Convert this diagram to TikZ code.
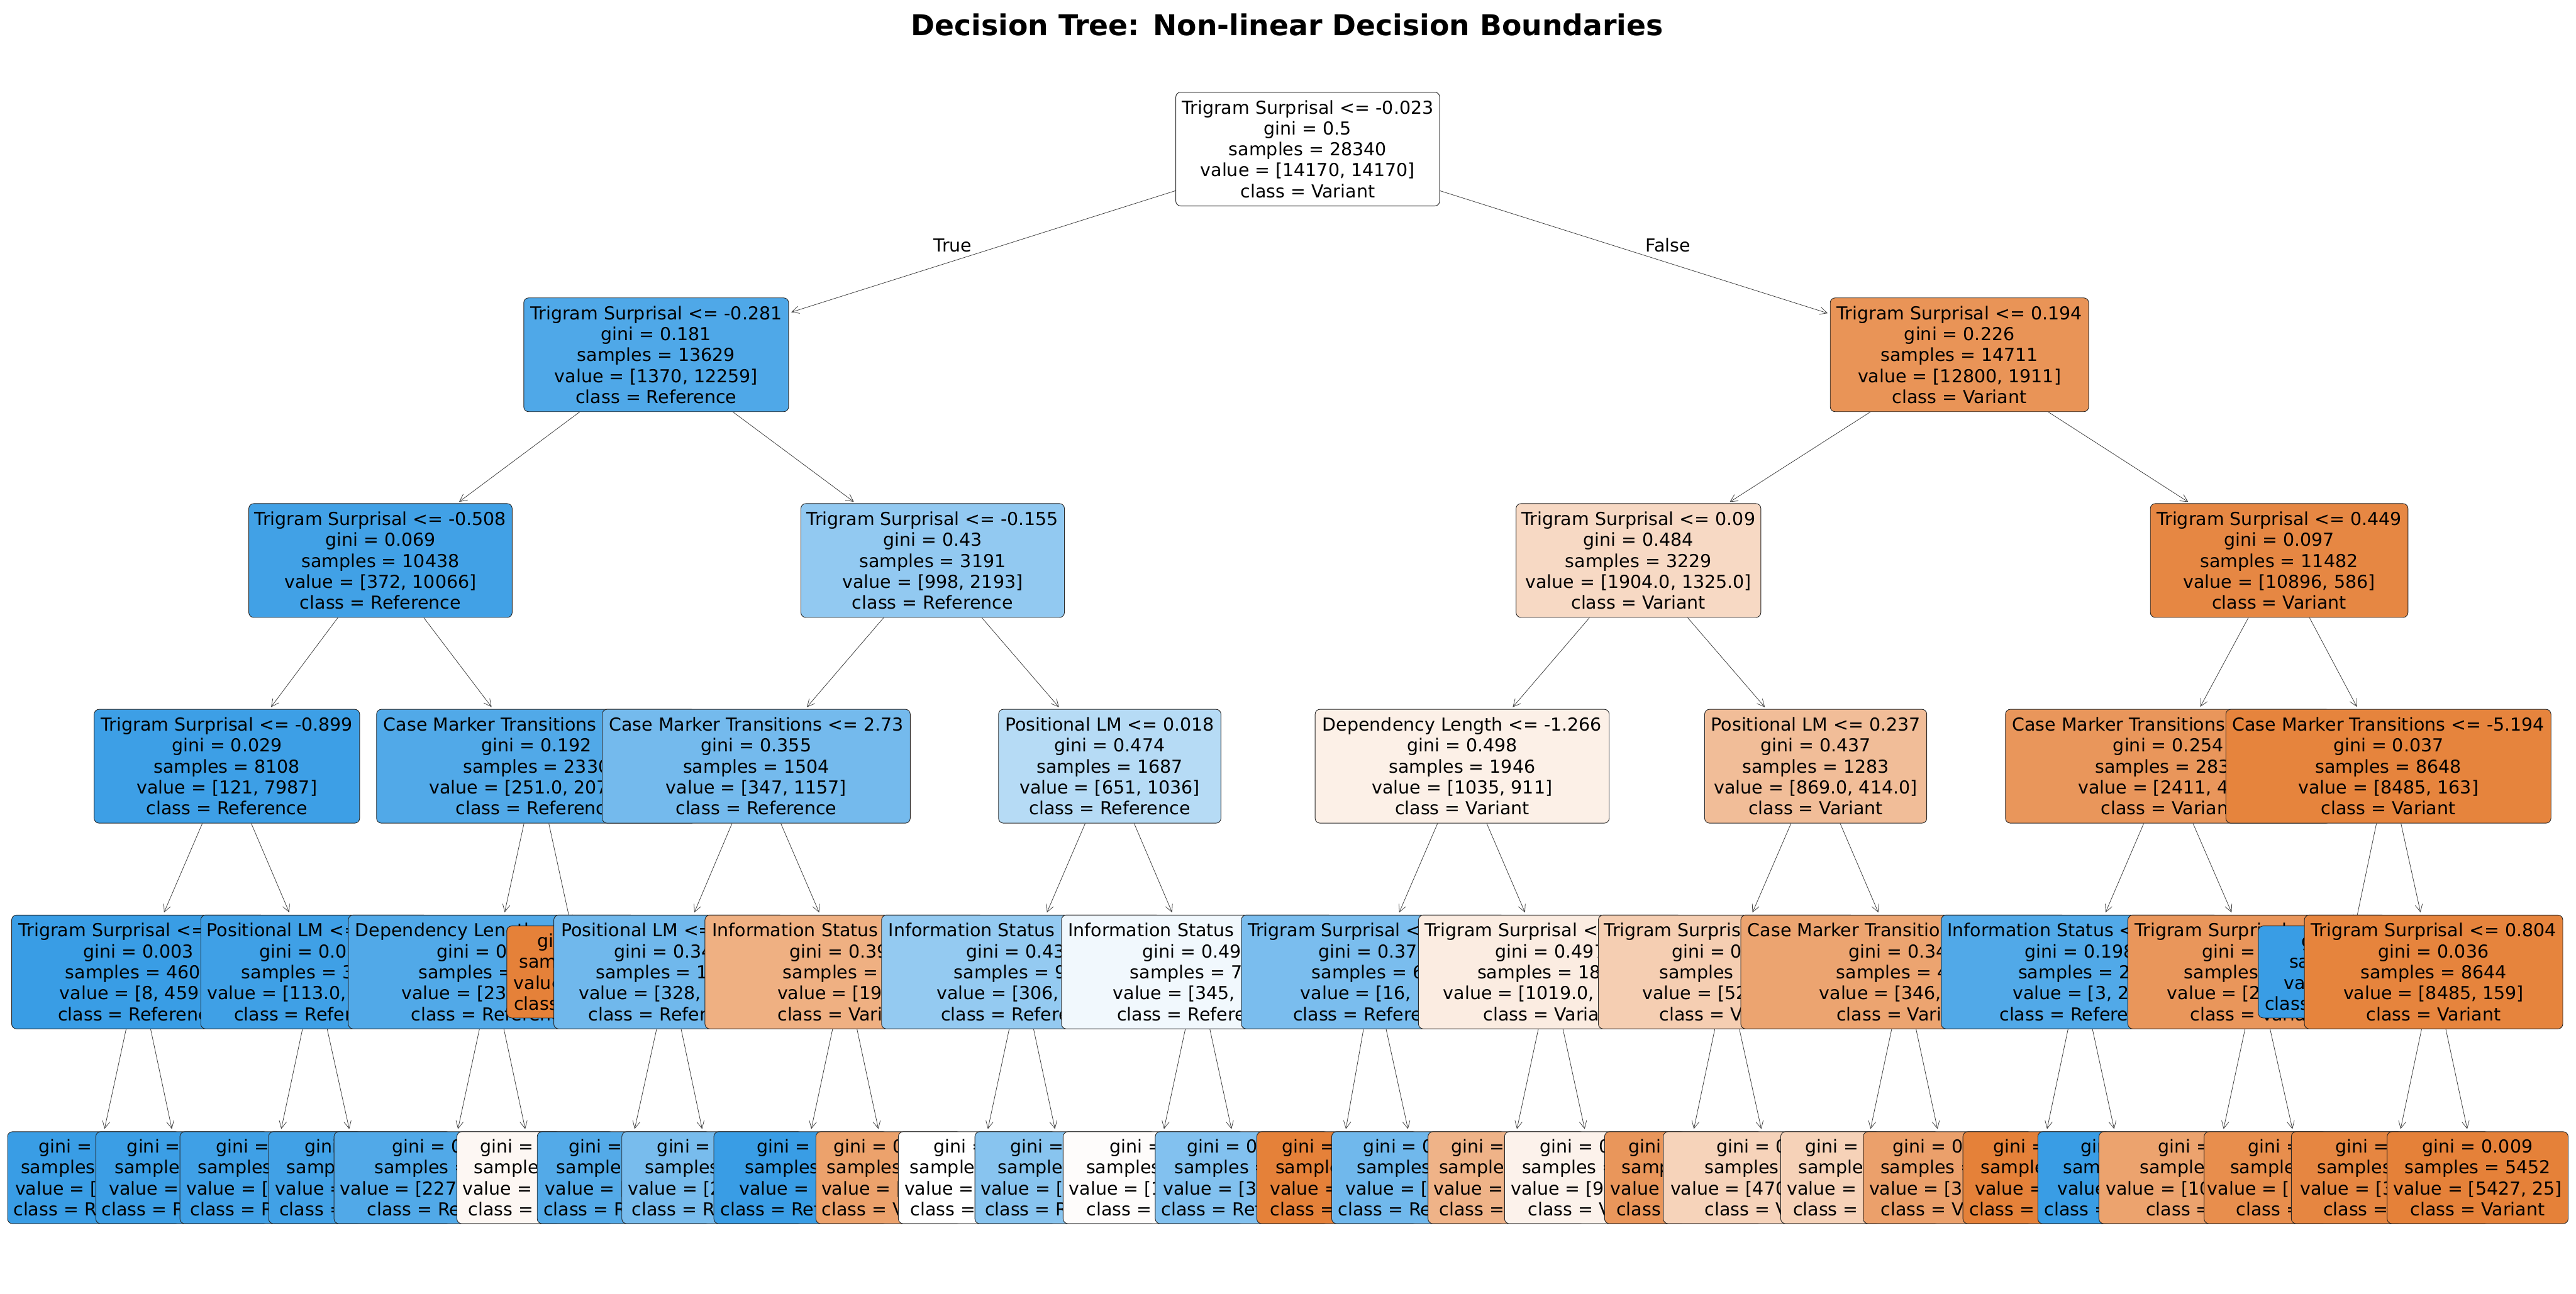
\documentclass[tikz,border=0pt]{standalone}
\usepackage{fontspec}
\setmainfont{DejaVu Sans}
\usetikzlibrary{arrows.meta}
\definecolor{orng}{RGB}{229,129,57}
\definecolor{blu}{RGB}{57,157,229}
\newcommand{\hid}[1]{\phantom{#1}}

\begin{document}
\begin{tikzpicture}[
  x=1pt, y=-1pt,
  split/.style={rectangle, rounded corners=3pt, draw=black!85, line width=0.35pt,
                minimum height=69.3pt, inner xsep=0pt, inner ysep=0pt, align=center,
                font=\fontsize{10.9}{12.75}\selectfont},
  leaf/.style={split, minimum height=56pt},
  arr/.style={-{Straight Barb[length=4.5pt,width=4.5pt]}, line width=0.3pt, black!75,
              shorten >=1.5pt},
  lbl/.style={font=\fontsize{10.9}{12.75}\selectfont, inner sep=0pt},
]
\useasboundingbox (0,0) rectangle (1568,787.7);
\fill[white] (0,0) rectangle (1568,787.7);

\node[font=\bfseries\fontsize{17.5}{21}\selectfont, anchor=base] (title) at (783.5,21.5)
  {Decision Tree: Non-linear Decision Boundaries};

% ---------------- depth 0 / 1 ----------------
\node[split, minimum width=160.6pt, fill=white] (n) at (796,90.75)
  {Trigram Surprisal <= -0.023\\gini = 0.5\\samples = 28340\\value = [14170, 14170]\\class = Variant};

\node[split, minimum width=161.2pt, fill=blu!89] (nL) at (399.4,216)
  {Trigram Surprisal <= -0.281\\gini = 0.181\\samples = 13629\\value = [1370, 12259]\\class = Reference};
\draw[arr] (n) -- (nL);

% ---------------- left half ----------------
\node[split, minimum width=160.3pt, fill=blu!96] (nLL) at (231.6,341.25)
  {Trigram Surprisal <= -0.508\\gini = 0.069\\samples = 10438\\value = [372, 10066]\\class = Reference};
\draw[arr] (nL) -- (nLL);
\node[split, minimum width=161.6pt, fill=blu!98] (nLLL) at (138.1,466.5)
  {Trigram Surprisal <= -0.899\\gini = 0.029\\samples = 8108\\value = [121, 7987]\\class = Reference};
\draw[arr] (nLL) -- (nLLL);
\node[split, minimum width=154.4pt, fill=blu!100] (nLLLL) at (84.3,591.75)
  {Trigram Surprisal <= \hid{-0.00}\\gini = 0.003\\samples = 460\hid{3}\\value = [8, 459\hid{5]}\\class = Reference};
\draw[arr] (nLLL) -- (nLLLL);
\node[leaf, minimum width=105.2pt, fill=blu!100] (nLLLLL) at (57.2,717)
  {gini = \hid{0.000}\\samples = \hid{0000}\\value = [\hid{0, 0000]}\\class = Reference};
\draw[arr] (nLLLL) -- (nLLLLL);
\node[leaf, minimum width=105.2pt, fill=blu!99] (nLLLLR) at (110.9,717)
  {gini = \hid{0.000}\\samples = \hid{000}\\value = [\hid{0, 000]}\\class = Reference};
\draw[arr] (nLLLL) -- (nLLLLR);
\node[split, minimum width=138.6pt, fill=blu!97] (nLLLR) at (191.5,591.75)
  {Positional LM <= \hid{-0.000}\\gini = 0.0\hid{00}\\samples = 3\hid{000}\\value = [113.0, \hid{0000.0]}\\class = Reference};
\draw[arr] (nLLL) -- (nLLLR);
\node[leaf, minimum width=110.8pt, fill=blu!97] (nLLLRL) at (164.9,717)
  {gini = \hid{0.000}\\samples = \hid{0000}\\value = [\hid{00, 0000]}\\class = Reference};
\draw[arr] (nLLLR) -- (nLLLRL);
\node[leaf, minimum width=111.2pt, fill=blu!96] (nLLLRR) at (219.1,717)
  {gini = \hid{0.000}\\samples = \hid{0000}\\value = [\hid{00, 0000]}\\class = Reference};
\draw[arr] (nLLLR) -- (nLLLRR);
\node[split, minimum width=194.6pt, fill=blu!88] (nLLR) at (326.5,466.5)
  {Case Marker Transitions <= \hid{0.000}\\gini = 0.192\\samples = 2330\\value = [251.0, 2079.0]\\class = Reference};
\draw[arr] (nLL) -- (nLLR);
\node[split, minimum width=174.6pt, fill=blu!88] (nLLRL) at (299.3,591.75)
  {Dependency Length <= \hid{0.000}\\gini = 0\hid{.000}\\samples = \hid{0000}\\value = [23\hid{0, 0000]}\\class = Reference};
\draw[arr] (nLLR) -- (nLLRL);
\node[leaf, minimum width=138.2pt, fill=blu!88] (nLLRLL) at (272.4,717)
  {gini = 0\hid{.000}\\samples = \hid{0000}\\value = [227\hid{.0, 0000.0]}\\class = Reference};
\draw[arr] (nLLRL) -- (nLLRLL);
\node[leaf, minimum width=95.8pt, fill=orng!6] (nLLRLR) at (326,717)
  {gini = \hid{0.000}\\samples = \hid{00}\\value = [\hid{0, 000]}\\class = Variant};
\draw[arr] (nLLRL) -- (nLLRLR);
\node[leaf, minimum width=90.4pt, fill=orng!100] (nLLRR) at (353.7,591.75)
  {gini = \hid{0.0}\\samples = \hid{00}\\value = [\hid{00, 0]}\\class = Variant};
\draw[arr] (nLLR) -- (nLLRR);

\node[split, minimum width=160.4pt, fill=blu!55] (nLR) at (567.7,341.25)
  {Trigram Surprisal <= -0.155\\gini = 0.43\\samples = 3191\\value = [998, 2193]\\class = Reference};
\draw[arr] (nL) -- (nLR);
\node[split, minimum width=187.5pt, fill=blu!70] (nLRL) at (460.3,466.5)
  {Case Marker Transitions <= 2.73\\gini = 0.355\\samples = 1504\\value = [347, 1157]\\class = Reference};
\draw[arr] (nLR) -- (nLRL);
\node[split, minimum width=140.4pt, fill=blu!72] (nLRLL) at (407.3,591.75)
  {Positional LM <= \hid{-0.000}\\gini = 0.34\hid{0}\\samples = 1\hid{000}\\value = [328, \hid{0000]}\\class = Reference};
\draw[arr] (nLRL) -- (nLRLL);
\node[leaf, minimum width=105.6pt, fill=blu!87] (nLRLLL) at (379.8,717)
  {gini = \hid{0.000}\\samples = \hid{000}\\value = [\hid{00, 000]}\\class = Reference};
\draw[arr] (nLRLL) -- (nLRLLL);
\node[leaf, minimum width=110.2pt, fill=blu!68] (nLRLLR) at (433.6,717)
  {gini = \hid{0.000}\\samples = \hid{000}\\value = [2\hid{00, 000]}\\class = Reference};
\draw[arr] (nLRLL) -- (nLRLLR);
\node[split, minimum width=170.2pt, fill=orng!63] (nLRLR) at (514.2,591.75)
  {Information Status <= \hid{-0.000}\\gini = 0.39\hid{0}\\samples = \hid{00}\\value = [19\hid{, 0]}\\class = Variant};
\draw[arr] (nLRL) -- (nLRLR);
\node[leaf, minimum width=106pt, fill=blu!100] (nLRLRL) at (487.5,717)
  {gini = \hid{0.0}\\samples = \hid{0}\\value = [\hid{0, 0]}\\class = Reference};
\draw[arr] (nLRLR) -- (nLRLRL);
\node[leaf, minimum width=88.8pt, fill=orng!74] (nLRLRR) at (541,717)
  {gini = 0\hid{.000}\\samples = \hid{00}\\value = [\hid{00, 0]}\\class = Variant};
\draw[arr] (nLRLR) -- (nLRLRR);
\node[split, minimum width=135.4pt, fill=blu!37] (nLRR) at (675.5,466.5)
  {Positional LM <= 0.018\\gini = 0.474\\samples = 1687\\value = [651, 1036]\\class = Reference};
\draw[arr] (nLR) -- (nLRR);
\node[split, minimum width=170.2pt, fill=blu!54] (nLRRL) at (621.7,591.75)
  {Information Status <= \hid{-0.000}\\gini = 0.43\hid{0}\\samples = 9\hid{00}\\value = [306, \hid{000]}\\class = Reference};
\draw[arr] (nLRR) -- (nLRRL);
\node[leaf, minimum width=96.4pt, fill=white] (nLRRLL) at (595,717)
  {gini = \hid{0.5}\\samples = \hid{000}\\value = [\hid{00, 00]}\\class = Variant};
\draw[arr] (nLRRL) -- (nLRRLL);
\node[leaf, minimum width=110.2pt, fill=blu!60] (nLRRLR) at (648.5,717)
  {gini = \hid{0.000}\\samples = \hid{000}\\value = [\hid{00, 0000]}\\class = Reference};
\draw[arr] (nLRRL) -- (nLRRLR);
\node[split, minimum width=165.6pt, fill=blu!7] (nLRRR) at (728.9,591.75)
  {Information Status <= \hid{0.000}\\gini = 0.49\hid{0}\\samples = 7\hid{00}\\value = [345, \hid{000]}\\class = Reference};
\draw[arr] (nLRR) -- (nLRRR);
\node[leaf, minimum width=110.2pt, fill=orng!2] (nLRRRL) at (702.2,717)
  {gini = \hid{0.5}\\samples = \hid{000}\\value = [1\hid{00, 000]}\\class = Variant};
\draw[arr] (nLRRR) -- (nLRRRL);
\node[leaf, minimum width=105.6pt, fill=blu!63] (nLRRRR) at (756,717)
  {gini = 0\hid{.000}\\samples = \hid{000}\\value = [3\hid{0, 000]}\\class = Reference};
\draw[arr] (nLRRR) -- (nLRRRR);

% ---------------- right half ----------------
\node[split, minimum width=157.3pt, fill=orng!85] (nR) at (1192.7,216)
  {Trigram Surprisal <= 0.194\\gini = 0.226\\samples = 14711\\value = [12800, 1911]\\class = Variant};
\draw[arr] (n) -- (nR);
\node[split, minimum width=149pt, fill=orng!30] (nRL) at (997.3,341.25)
  {Trigram Surprisal <= 0.09\\gini = 0.484\\samples = 3229\\value = [1904.0, 1325.0]\\class = Variant};
\draw[arr] (nR) -- (nRL);
\node[split, minimum width=179pt, fill=orng!12] (nRLL) at (890,466.5)
  {Dependency Length <= -1.266\\gini = 0.498\\samples = 1946\\value = [1035, 911]\\class = Variant};
\draw[arr] (nRL) -- (nRLL);
\node[split, minimum width=161pt, fill=blu!67] (nRLLL) at (836.1,591.75)
  {Trigram Surprisal <= \hid{-0.000}\\gini = 0.37\hid{0}\\samples = 6\hid{0}\\value = [16, \hid{00]}\\class = Reference};
\draw[arr] (nRLL) -- (nRLLL);
\node[leaf, minimum width=98pt, fill=orng!100] (nRLLLL) at (814,717)
  {gini = \hid{0.000}\\samples = \hid{00}\\value = [\hid{00, 0]}\\class = Variant};
\draw[arr] (nRLLL) -- (nRLLLL);
\node[leaf, minimum width=105.8pt, fill=blu!72] (nRLLLR) at (863.5,717)
  {gini = 0\hid{.000}\\samples = \hid{00}\\value = [\hid{0, 000]}\\class = Reference};
\draw[arr] (nRLLL) -- (nRLLLR);
\node[split, minimum width=160.8pt, fill=orng!15] (nRLLR) at (943.8,591.75)
  {Trigram Surprisal <= \hid{-0.000}\\gini = 0.497\\samples = 18\hid{00}\\value = [1019.0, \hid{000.0]}\\class = Variant};
\draw[arr] (nRLL) -- (nRLLR);
\node[leaf, minimum width=95.6pt, fill=orng!60] (nRLLRL) at (917,717)
  {gini = \hid{0.000}\\samples = \hid{000}\\value = [\hid{00, 00]}\\class = Variant};
\draw[arr] (nRLLR) -- (nRLLRL);
\node[leaf, minimum width=110.4pt, fill=orng!10] (nRLLRR) at (971,717)
  {gini = 0\hid{.000}\\samples = \hid{0000}\\value = [9\hid{00, 000]}\\class = Variant};
\draw[arr] (nRLLR) -- (nRLLRR);
\node[split, minimum width=135.2pt, fill=orng!52] (nRLR) at (1105.2,466.5)
  {Positional LM <= 0.237\\gini = 0.437\\samples = 1283\\value = [869.0, 414.0]\\class = Variant};
\draw[arr] (nRL) -- (nRLR);
\node[split, minimum width=156.4pt, fill=orng!39] (nRLRL) at (1051.1,591.75)
  {Trigram Surprisal <= \hid{0.000}\\gini = 0\hid{.000}\\samples = \hid{000}\\value = [52\hid{0, 000]}\\class = Variant};
\draw[arr] (nRLR) -- (nRLRL);
\node[leaf, minimum width=96.2pt, fill=orng!83] (nRLRLL) at (1024.8,717)
  {gini = \hid{0.000}\\samples = \hid{00}\\value = [\hid{00, 00]}\\class = Variant};
\draw[arr] (nRLRL) -- (nRLRLL);
\node[leaf, minimum width=132.4pt, fill=orng!35] (nRLRLR) at (1078.6,717)
  {gini = 0\hid{.000}\\samples = \hid{000}\\value = [470\hid{.0, 000.0]}\\class = Variant};
\draw[arr] (nRLRL) -- (nRLRLR);
\node[split, minimum width=198.4pt, fill=orng!72] (nRLRR) at (1158.8,591.75)
  {Case Marker Transitions <= \hid{-0.000}\\gini = 0.34\hid{0}\\samples = 4\hid{00}\\value = [346, \hid{000]}\\class = Variant};
\draw[arr] (nRLR) -- (nRLRR);
\node[leaf, minimum width=96.8pt, fill=orng!36] (nRLRRL) at (1132.3,717)
  {gini = \hid{0.000}\\samples = \hid{00}\\value = [\hid{00, 00]}\\class = Variant};
\draw[arr] (nRLRR) -- (nRLRRL);
\node[leaf, minimum width=103.2pt, fill=orng!75] (nRLRRR) at (1185.7,717)
  {gini = 0\hid{.000}\\samples = \hid{000}\\value = [3\hid{00, 00]}\\class = Variant};
\draw[arr] (nRLRR) -- (nRLRRR);

\node[split, minimum width=156.8pt, fill=orng!95] (nRR) at (1387.3,341.25)
  {Trigram Surprisal <= 0.449\\gini = 0.097\\samples = 11482\\value = [10896, 586]\\class = Variant};
\draw[arr] (nR) -- (nRR);
\node[split, minimum width=198.2pt, fill=orng!83] (nRRL) at (1319.8,466.5)
  {Case Marker Transitions <= \hid{-0.000}\\gini = 0.254\\samples = 2834\\value = [2411, 423]\\class = Variant};
\draw[arr] (nRR) -- (nRRL);
\node[split, minimum width=169pt, fill=blu!88] (nRRLL) at (1266.1,591.75)
  {Information Status <= \hid{-0.000}\\gini = 0.198\\samples = 2\hid{0}\\value = [3, 2\hid{0]}\\class = Reference};
\draw[arr] (nRRL) -- (nRRLL);
\node[leaf, minimum width=90pt, fill=orng!100] (nRRLLL) at (1239.8,717)
  {gini = \hid{0.0}\\samples = \hid{0}\\value = [\hid{0, 0]}\\class = Variant};
\draw[arr] (nRRLL) -- (nRRLLL);
\node[leaf, minimum width=105.8pt, fill=blu!100] (nRRLLR) at (1293.3,717)
  {gini = \hid{0.0}\\samples = \hid{00}\\value = [\hid{0, 00]}\\class = Reference};
\draw[arr] (nRRLL) -- (nRRLLR);
\node[split, minimum width=157.6pt, fill=orng!83] (nRRLR) at (1374,591.75)
  {Trigram Surprisal <= \hid{0.000}\\gini = \hid{0.000}\\samples = \hid{0000}\\value = [2\hid{000, 000]}\\class = Variant};
\draw[arr] (nRRL) -- (nRRLR);
\node[leaf, minimum width=139pt, fill=orng!73] (nRRLRL) at (1347.1,717)
  {gini = \hid{0.000}\\samples = \hid{0000}\\value = [10\hid{00.0, 000.0]}\\class = Variant};
\draw[arr] (nRRLR) -- (nRRLRL);
\node[leaf, minimum width=120.8pt, fill=orng!90] (nRRLRR) at (1402,717)
  {gini = \hid{0.000}\\samples = \hid{0000}\\value = [\hid{0000, 0000]}\\class = Variant};
\draw[arr] (nRRLR) -- (nRRLRR);
\node[split, minimum width=197.9pt, fill=orng!98] (nRRR) at (1453.8,466.5)
  {Case Marker Transitions <= -5.194\\gini = 0.037\\samples = 8648\\value = [8485, 163]\\class = Variant};
\draw[arr] (nRR) -- (nRRR);
\node[leaf, minimum width=106pt, fill=blu!100] (nRRRL) at (1427.6,591.75)
  {gini = \hid{0.0}\\samples = \hid{0}\\value = [\hid{0, 0]}\\class = Reference};
\draw[arr] (nRRR) -- (nRRRL);
\node[split, minimum width=157.3pt, fill=orng!98] (nRRRR) at (1481.3,591.75)
  {Trigram Surprisal <= 0.804\\gini = 0.036\\samples = 8644\\value = [8485, 159]\\class = Variant};
\draw[arr] (nRRR) -- (nRRRR);
\node[leaf, minimum width=120.6pt, fill=orng!96] (nRRRRL) at (1455,717)
  {gini = \hid{0.000}\\samples = \hid{0000}\\value = [3\hid{000, 000]}\\class = Variant};
\draw[arr] (nRRRR) -- (nRRRRL);
\node[leaf, minimum width=110.2pt, fill=orng!100] (nRRRRR) at (1508.1,717)
  {gini = 0.009\\samples = 5452\\value = [5427, 25]\\class = Variant};
\draw[arr] (nRRRR) -- (nRRRRR);

% ---------------- branch labels ----------------
\node[lbl] (yes) at (580,149.4) {True};
\node[lbl] (no) at (1015.3,149.4) {False};

\end{tikzpicture}
\end{document}
